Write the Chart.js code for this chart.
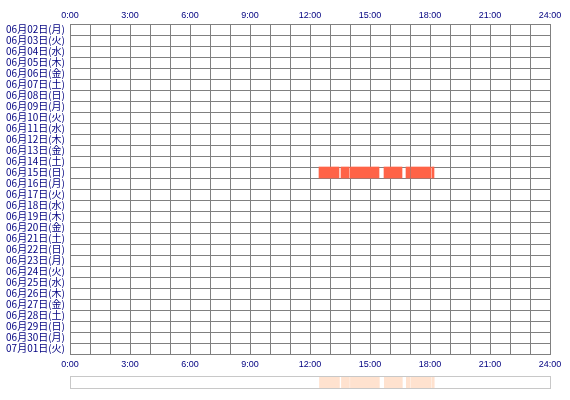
<!DOCTYPE html>
<html>
<head>
<meta charset="utf-8">
<script src="https://cdn.jsdelivr.net/npm/chart.js@4/dist/chart.umd.min.js"></script>
<style>
  body { margin: 0; background: #fff; }
  #main { position: absolute; left: 0; top: 0; width: 570px; height: 372px; }
  #strip { position: absolute; left: 70px; top: 376px; width: 481px; height: 13px;
           border: 1px solid #c8c8c8; box-sizing: border-box; }
</style>
</head>
<body>
<div id="main"><canvas id="dayChart"></canvas></div>
<div id="strip"><canvas id="stripChart" width="479" height="11"></canvas></div>
<script>
// rows of the chart, one per day
const dayLabels = [
  "06月02日(月)", "06月03日(火)", "06月04日(水)", "06月05日(木)", "06月06日(金)",
  "06月07日(土)", "06月08日(日)", "06月09日(月)", "06月10日(火)", "06月11日(水)",
  "06月12日(木)", "06月13日(金)", "06月14日(土)", "06月15日(日)", "06月16日(月)",
  "06月17日(火)", "06月18日(水)", "06月19日(木)", "06月20日(金)", "06月21日(土)",
  "06月22日(日)", "06月23日(月)", "06月24日(火)", "06月25日(水)", "06月26日(木)",
  "06月27日(金)", "06月28日(土)", "06月29日(日)", "06月30日(月)", "07月01日(火)"
];

// time labels every 3 hours
const timeLabels = ["0:00", "3:00", "6:00", "9:00", "12:00", "15:00", "18:00", "21:00", "24:00"];

// active periods (hours) on the one day that has any
const activeDay = "06月15日(日)";
const segStart = [12.45, 13.55, 14.0, 15.7, 16.8, 17.05, 18.1];
const segEnd   = [13.45, 13.95, 15.45, 16.6, 17.0, 18.05, 18.2];

const navy = "#000080";
const gridGray = "#808080";

function timeTick(value) {
  return value % 3 === 0 ? timeLabels[value / 3] : "";
}

const segments = segStart.map((s, i) => ({ x: [s, segEnd[i]], y: activeDay }));

new Chart(document.getElementById("dayChart"), {
  type: "bar",
  data: {
    labels: dayLabels,
    datasets: [{
      data: segments,
      backgroundColor: "#ff6347",
      barPercentage: 1,
      categoryPercentage: 1,
      grouped: false,
    }],
  },
  options: {
    indexAxis: "y",
    responsive: true,
    maintainAspectRatio: false,
    animation: false,
    layout: { padding: { left: 0, right: 20, top: 0, bottom: 0 } },
    plugins: { legend: { display: false }, tooltip: { enabled: false } },
    scales: {
      x: {
        type: "linear",
        position: "bottom",
        min: 0,
        max: 24,
        grid: { color: gridGray, drawTicks: false },
        border: { color: gridGray },
        ticks: {
          stepSize: 1,
          autoSkip: false,
          maxRotation: 0,
          padding: 5,
          color: navy,
          font: { family: "Liberation Sans", size: 9 },
          callback: timeTick,
        },
        afterFit: (scale) => { scale.height = 18; },
      },
      x2: {
        type: "linear",
        position: "top",
        min: 0,
        max: 24,
        grid: { display: false, drawTicks: false },
        border: { display: false },
        ticks: {
          stepSize: 1,
          autoSkip: false,
          maxRotation: 0,
          padding: 3,
          color: navy,
          font: { family: "Liberation Sans", size: 9 },
          callback: timeTick,
        },
        afterFit: (scale) => { scale.height = 24; },
      },
      y: {
        type: "category",
        grid: { color: gridGray, drawTicks: false },
        border: { color: gridGray },
        ticks: {
          autoSkip: false,
          padding: 5,
          color: navy,
          font: { family: "Noto Sans CJK JP", size: 10 },
        },
        afterFit: (scale) => { scale.width = 70; },
      },
    },
  },
});

// overview strip under the chart
new Chart(document.getElementById("stripChart"), {
  type: "bar",
  data: {
    labels: ["all"],
    datasets: [{
      data: segStart.map((s, i) => ({ x: [s, segEnd[i]], y: "all" })),
      backgroundColor: "#ffe2cf",
      barPercentage: 1,
      categoryPercentage: 1,
      grouped: false,
    }],
  },
  options: {
    indexAxis: "y",
    responsive: false,
    animation: false,
    layout: { padding: 0 },
    plugins: { legend: { display: false }, tooltip: { enabled: false } },
    scales: {
      x: { type: "linear", min: 0, max: 24, display: false },
      y: { display: false },
    },
  },
});
</script>
</body>
</html>
